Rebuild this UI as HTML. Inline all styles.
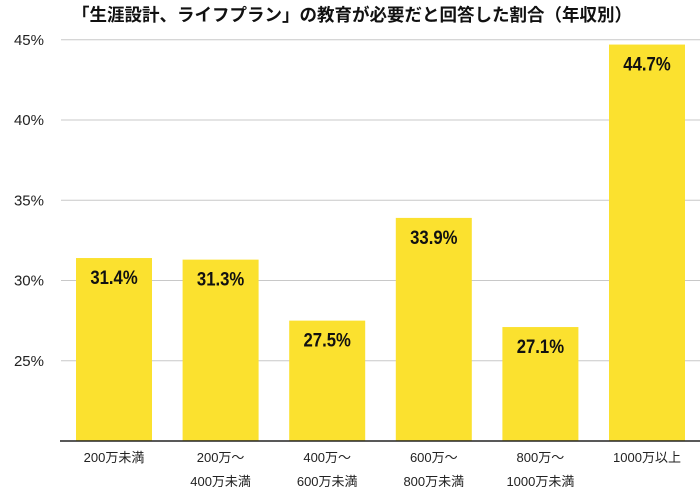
<!DOCTYPE html>
<html><head><meta charset="utf-8"><style>
body{margin:0;background:#fff;width:700px;height:487px;overflow:hidden}
svg text{font-family:"Liberation Sans","Noto Sans CJK JP",sans-serif}
</style></head><body>
<svg width="700" height="487">
<text x="352" y="21" text-anchor="middle" font-size="17.5" font-weight="bold" fill="#111">「生涯設計、ライフプラン」の教育が必要だと回答した割合（年収別）</text>
<g id="grid"></g><g id="bars"></g><g id="xl"></g>
</svg>
<script>
const categories=[["200万未満"],["200万〜","400万未満"],["400万〜","600万未満"],["600万〜","800万未満"],["800万〜","1000万未満"],["1000万以上"]];
const values=[31.4,31.3,27.5,33.9,27.1,44.7];
const ticks=[25,30,35,40,45];
const NS="http://www.w3.org/2000/svg";
const y=v=>441-(v-20)*16.05;
const x=i=>76+i*106.6;
const bw=76;
function mk(t,a,p){const e=document.createElementNS(NS,t);for(const k in a)e.setAttribute(k,a[k]);p.appendChild(e);return e;}
const g=document.getElementById('grid'),b=document.getElementById('bars'),xl=document.getElementById('xl');
ticks.forEach(t=>{
 const l=mk('line',{x1:61,x2:700,y1:y(t),y2:y(t),stroke:'#c8c8c8','stroke-width':1},g);
 
 
 const tx=mk('text',{x:44,y:y(t)+5,'text-anchor':'end','font-size':15,fill:'#222'},g);
 tx.textContent=t+'%';
 
 
});
values.forEach((v,i)=>{
 const r=mk('rect',{x:x(i),y:y(v),width:bw,height:441-y(v),fill:'#fbe12f'},b);
 
 
 const t=mk('text',{x:x(i)+bw/2,y:y(v)+26,'text-anchor':'middle','font-size':19,'font-weight':'bold',fill:'#111',transform:`translate(${x(i)+bw/2},0) scale(0.88,1) translate(${-(x(i)+bw/2)},0)`},b);
 t.textContent=v.toFixed(1)+'%';
 
 
 categories[i].forEach((s,j)=>{
  const c=mk('text',{x:x(i)+bw/2,y:462+j*24,'text-anchor':'middle','font-size':13,fill:'#222'},xl);
  c.textContent=s;
  
  
 });
});
const ax=mk('line',{x1:60,x2:700,y1:441,y2:441,stroke:'#222','stroke-width':1.5},xl);


</script>
</body></html>
